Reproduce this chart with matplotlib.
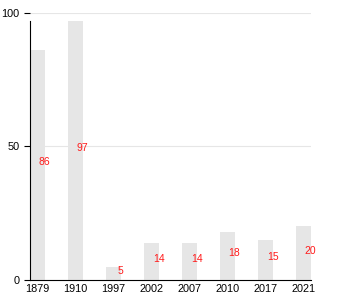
import matplotlib
matplotlib.use("Agg")
import matplotlib.pyplot as plt

plt.rcParams["font.family"] = ["Liberation Sans", "DejaVu Sans"]

# ── Data ──────────────────────────────────────────────────────────────────────
years = ["1879", "1910", "1997", "2002", "2007", "2010", "2017", "2021"]
values = [86, 97, 5, 14, 14, 18, 15, 20]

# ── Plot ──────────────────────────────────────────────────────────────────────
fig = plt.figure(figsize=(3.5, 3.0), dpi=100)
ax = fig.add_axes([0.086, 0.067, 0.803, 0.89])

x = range(len(years))
ax.bar(x, values, width=0.4, color="#e6e6e6", zorder=2)

for xi, v in zip(x, values):
    ax.annotate(str(v), xy=(xi, v / 2 + 1), xytext=(5, 0),
                textcoords="offset points", ha="center", va="center",
                fontsize=7.5, color="#ff1a1a", zorder=3)

ax.set_xlim(-0.2, 7.2)
ax.set_ylim(0, 100)
ax.set_xticks(list(x))
ax.set_xticklabels(years, fontsize=7.8)
ax.set_yticks([0, 50, 100])
ax.set_yticklabels(["0", "50", "100"], fontsize=7.8)
ax.tick_params(axis="x", length=0, pad=3)
ax.tick_params(axis="y", length=4, width=0.8)

ax.grid(True, axis="y", color="#e6e6e6", linewidth=0.8, zorder=0)
ax.spines["top"].set_visible(False)
ax.spines["right"].set_visible(False)
ax.spines["left"].set_bounds(0, max(values))

fig.savefig("out.png", dpi=100)
